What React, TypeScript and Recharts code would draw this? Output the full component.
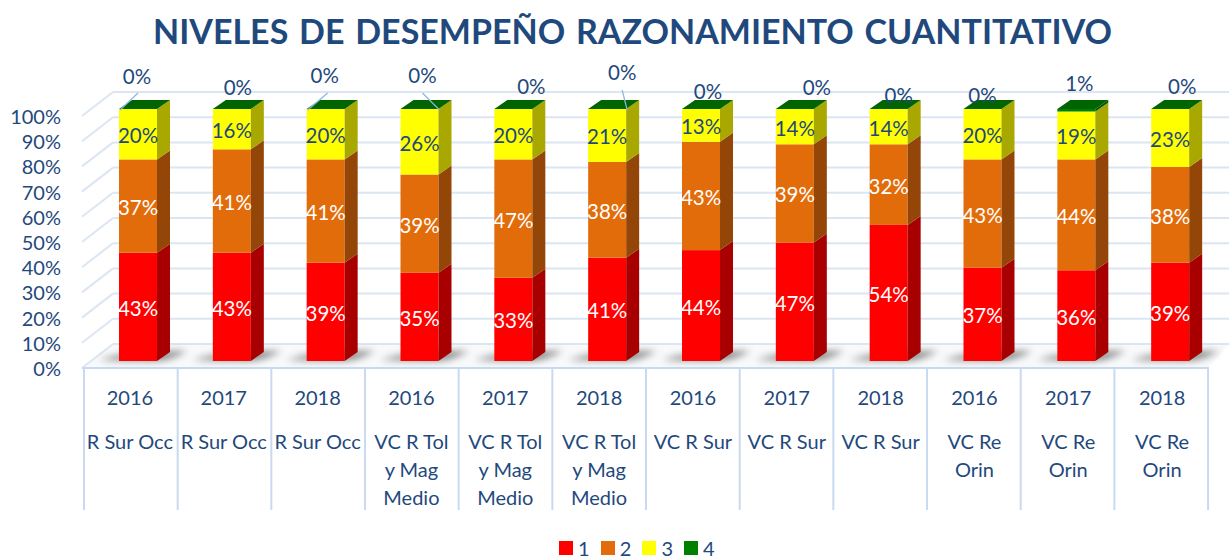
import React from "react";
import { BarChart, Bar, XAxis, YAxis, CartesianGrid, Legend, LabelList } from "recharts";

const years = ["2016", "2017", "2018", "2016", "2017", "2018", "2016", "2017", "2018", "2016", "2017", "2018"];
const regions = [
  ["R Sur Occ"], ["R Sur Occ"], ["R Sur Occ"],
  ["VC R Tol", "y Mag", "Medio"], ["VC R Tol", "y Mag", "Medio"], ["VC R Tol", "y Mag", "Medio"],
  ["VC R Sur"], ["VC R Sur"], ["VC R Sur"],
  ["VC Re", "Orin"], ["VC Re", "Orin"], ["VC Re", "Orin"],
];
const level1 = [43, 43, 39, 35, 33, 41, 44, 47, 54, 37, 36, 39];
const level2 = [37, 41, 41, 39, 47, 38, 43, 39, 32, 43, 44, 38];
const level3 = [20, 16, 20, 26, 20, 21, 13, 14, 14, 20, 19, 23];
const level4 = [0, 0, 0, 0, 0, 0, 0, 0, 0, 0, 1, 0];
const yTicks = [0, 10, 20, 30, 40, 50, 60, 70, 80, 90, 100];

const rows = years.map((y, i) => ({ key: `${y}-${i}`, s1: level1[i], s2: level2[i], s3: level3[i], s4: level4[i] }));

// Layout of the pseudo-3D look
const FONT = "Lato, sans-serif";
const BLUE = "#1F497D";
const GRID = "#DCE6F3";
const AXIS = "#C9DAF0";
const SHIFT = 7;
const DX = 13;
const DY = 9;
const WALL_DX = 29;
const FRONT_DY = 7;
const BACK_DY = -17;
const SEP_LEFT = 84;
const SEP_STEP = 93.67;

// Placement of the "top series" labels, relative to the bar's centre and top
const topLabelDx = [-1, 6, -1, 3, 18, 15, 7, 22, 10, 0, 3, 12];
const topLabelDy = [-32, -21, -33, -33, -22, -36, -17, -21, -13, -13, -25, -22];
const leaders: Record<number, number[]> = {
  0: [1, 1, 19, -16],
  2: [1, 1, 21, -16],
  3: [39, 1, 22, -16],
  5: [39, 1, 34, -19],
};

const faces: Record<string, { front: string; side: string }> = {
  s1: { front: "#FF0000", side: "#A80000" },
  s2: { front: "#E36C0A", side: "#934607" },
  s3: { front: "#FFFF00", side: "#A8A800" },
  s4: { front: "#008000", side: "#005400" },
};

function Block(props: any) {
  const { x, y, width, height, series } = props;
  const c = faces[series];
  const bx = x + SHIFT;
  const w = width;
  const h = Math.max(height, 0);
  return (
    <g>
      {series === "s1" && (
        <path
          d={`M${bx - 20},${y + h - 1} Q${bx + 10},${y + h - 11} ${bx + 68},${y + h - 10} Q${bx + 50},${y + h + 1} ${bx + 30},${y + h} Z`}
          fill="#8a8a8a"
          style={{ filter: "blur(3.5px)" }}
        />
      )}
      <rect x={bx} y={y} width={w} height={h} fill={c.front} />
      <path
        d={`M${bx + w},${y} L${bx + w + DX},${y - DY} L${bx + w + DX},${y + h - DY} L${bx + w},${y + h} Z`}
        fill={c.side}
      />
      {series === "s4" && (
        <path d={`M${bx},${y} L${bx + DX},${y - DY} L${bx + w + DX},${y - DY} L${bx + w},${y} Z`} fill="#006400" />
      )}
    </g>
  );
}

function makeShape(series: string) {
  return (p: any) => <Block {...p} series={series} />;
}

function makeLabel(color: string) {
  return (p: any) => {
    const { x, y, width, height, value } = p;
    return (
      <text
        x={x + SHIFT + width / 2}
        y={y + height / 2 + 9}
        textAnchor="middle"
        fontFamily={FONT}
        fontSize={20.5}
        fill={color}
      >
        {value}%
      </text>
    );
  };
}

function TopLabel(p: any) {
  const { x, y, width, value, index } = p;
  const cx = x + SHIFT + width / 2;
  const ld = leaders[index];
  const bx = x + SHIFT;
  return (
    <g>
      {ld && (
        <line
          x1={bx + ld[0]}
          y1={y + ld[1]}
          x2={bx + ld[2]}
          y2={y + ld[3]}
          stroke="#8DB4E2"
          strokeWidth={1.2}
        />
      )}
      <text
        x={cx + topLabelDx[index]}
        y={y + topLabelDy[index] + 7}
        textAnchor="middle"
        fontFamily={FONT}
        fontSize={20.5}
        fill={BLUE}
      >
        {value}%
      </text>
    </g>
  );
}

function GridLine(p: any) {
  const { x1, x2, y1, index } = p;
  const front = y1 + FRONT_DY;
  const back = y1 + BACK_DY;
  const isFloor = Math.abs(y1 - 361) < 1;
  const frontEnd = x2 - 2;
  return (
    <g key={p.key ?? index}>
      {isFloor && (
        <path
          d={`M${x1},${front} L${x1 + WALL_DX},${back} L${frontEnd + 21},${back} L${frontEnd},${front} Z`}
          fill="#F8F9FA"
          stroke="none"
        />
      )}
      <line x1={x1 - 2} y1={front} x2={x1 + WALL_DX} y2={back} stroke={GRID} strokeWidth={2} />
      <line x1={x1 + WALL_DX} y1={back} x2={frontEnd + 21} y2={back} stroke={GRID} strokeWidth={2} />
      {isFloor && <line x1={x1 - 2} y1={front} x2={frontEnd + 1} y2={front} stroke={AXIS} strokeWidth={2} />}
    </g>
  );
}

function CatTick(p: any) {
  const { x, payload, index } = p;
  const i = payload?.index ?? index;
  const left = SEP_LEFT + i * SEP_STEP;
  const top = 368;
  const last = i === rows.length - 1;
  return (
    <g>
      <line x1={left} y1={top} x2={left} y2={510} stroke={AXIS} strokeWidth={2} />
      {last && <line x1={left + SEP_STEP} y1={top} x2={left + SEP_STEP} y2={510} stroke={AXIS} strokeWidth={2} />}
      <text x={x - 1} y={405} textAnchor="middle" fontFamily={FONT} fontSize={20} fill={BLUE}>
        {years[i]}
      </text>
      {regions[i].map((line, k) => (
        <text key={k} x={x - 1} y={449 + k * 28} textAnchor="middle" fontFamily={FONT} fontSize={20} fill={BLUE}>
          {line}
        </text>
      ))}
    </g>
  );
}

function ValueTick(p: any) {
  const { y, payload } = p;
  return (
    <text x={61} y={y + FRONT_DY + 8} textAnchor="end" fontFamily={FONT} fontSize={20} fill={BLUE}>
      {payload.value}%
    </text>
  );
}

function LegendBox(p: any) {
  const items = p.payload ?? [];
  return (
    <div style={{ display: "flex", gap: 0, alignItems: "center", height: 20 }}>
      {items.map((it: any) => (
        <div key={it.value} style={{ display: "flex", alignItems: "center", width: 41.7 }}>
          <span style={{ display: "inline-block", width: 14, height: 14, background: it.color, marginRight: 5 }} />
          <span style={{ color: BLUE, fontFamily: FONT, fontSize: 20, lineHeight: "20px" }}>{it.value}</span>
        </div>
      ))}
    </div>
  );
}

export default function App() {
  return (
    <div style={{ position: "absolute", left: 0, top: 0, width: 1229, height: 558, background: "#fff" }}>
      <div
        style={{
          position: "absolute",
          left: 0,
          top: 9,
          width: 1265,
          textAlign: "center",
          fontFamily: FONT,
          fontWeight: 700,
          fontSize: 34,
          lineHeight: "44px",
          color: BLUE,
          whiteSpace: "nowrap",
          wordSpacing: 2.5,
        }}
      >
        NIVELES DE DESEMPEÑO RAZONAMIENTO CUANTITATIVO
      </div>
      <BarChart
        width={1229}
        height={558}
        data={rows}
        margin={{ top: 109, right: 19, bottom: 0, left: 0 }}
        barSize={38}
      >
        <CartesianGrid vertical={false} horizontal={GridLine as any} />
        <XAxis
          dataKey="key"
          interval={0}
          height={177}
          axisLine={false}
          tickLine={false}
          tick={(p: any) => <CatTick {...p} />}
        />
        <YAxis
          type="number"
          width={84}
          domain={[0, 100]}
          ticks={yTicks}
          interval={0}
          axisLine={false}
          tickLine={false}
          tick={(p: any) => <ValueTick {...p} />}
        />
        <Legend
          verticalAlign="bottom"
          content={(p: any) => <LegendBox {...p} />}
          wrapperStyle={{ position: "absolute", left: 559, width: 170, bottom: 0, height: 20, padding: 0 }}
        />
        <Bar dataKey="s1" name="1" stackId="a" fill="#FF0000" isAnimationActive={false} shape={makeShape("s1")}>
          <LabelList dataKey="s1" content={makeLabel("#FFFFFF") as any} />
        </Bar>
        <Bar dataKey="s2" name="2" stackId="a" fill="#E36C0A" isAnimationActive={false} shape={makeShape("s2")}>
          <LabelList dataKey="s2" content={makeLabel("#FFFFFF") as any} />
        </Bar>
        <Bar dataKey="s3" name="3" stackId="a" fill="#FFFF00" isAnimationActive={false} shape={makeShape("s3")}>
          <LabelList dataKey="s3" content={makeLabel(BLUE) as any} />
        </Bar>
        <Bar dataKey="s4" name="4" stackId="a" fill="#008000" isAnimationActive={false} shape={makeShape("s4")}>
          <LabelList dataKey="s4" content={((p: any) => <TopLabel {...p} />) as any} />
        </Bar>
      </BarChart>
    </div>
  );
}
